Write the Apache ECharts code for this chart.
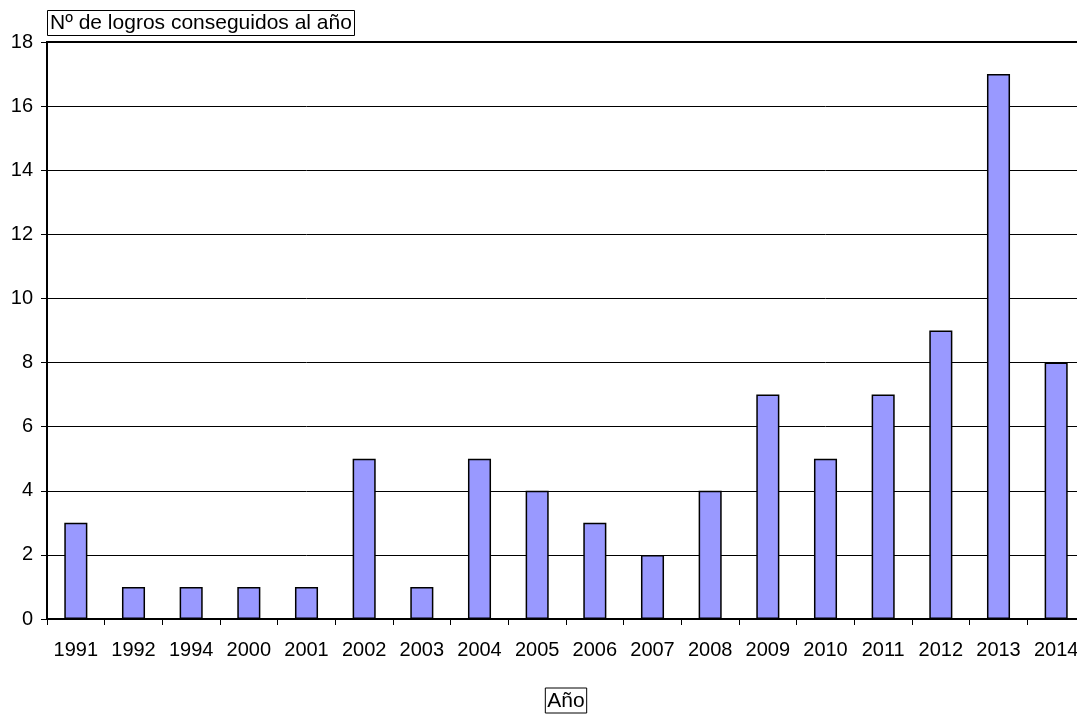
<!DOCTYPE html>
<html>
<head>
<meta charset="utf-8">
<script src="https://cdn.jsdelivr.net/npm/echarts@6/dist/echarts.min.js"></script>
<style>
html,body{margin:0;padding:0;background:#fff;}
#wrap{position:relative;width:1077px;height:714px;overflow:hidden;}
#main{position:absolute;left:0;top:0;width:1100px;height:714px;}
</style>
</head>
<body>
<div id="wrap"><div id="main"></div></div>
<script>
const years = ['1991','1992','1994','2000','2001','2002','2003','2004','2005','2006','2007','2008','2009','2010','2011','2012','2013','2014'];
const logros = [3,1,1,1,1,5,1,5,4,3,2,4,7,5,7,9,17,8];
const yTicks = [0,2,4,6,8,10,12,14,16,18];
const yTitle = 'Nº de logros conseguidos al año';
const xTitle = 'Año';

const chart = echarts.init(document.getElementById('main'), null, {renderer:'canvas', width:1100, height:714});
const FONT = 'Liberation Sans, Arial, Helvetica, sans-serif';
chart.setOption({
  animation: false,
  backgroundColor: '#fff',
  textStyle: {fontFamily: FONT},
  title: {
    text: yTitle,
    left: 47, top: 10,
    padding: [2, 3, 2, 3],
    borderColor: '#000', borderWidth: 1,
    textStyle: {fontFamily: FONT, fontSize: 21, fontWeight: 'normal', color: '#000', lineHeight: 22}
  },
  grid: {
    left: 47, right: 15, top: 42, bottom: 95,
    containLabel: false,
    outerBoundsMode: 'none',
    show: true, borderColor: '#000', borderWidth: 2, backgroundColor: 'transparent'
  },
  xAxis: {
    type: 'category',
    data: years,
    name: xTitle,
    nameLocation: 'middle',
    nameGap: 69,
    nameTextStyle: {fontFamily: FONT, fontSize: 21, color: '#000', borderColor: '#000', borderWidth: 1, padding: [2, 2, 1, 2], lineHeight: 22},
    axisLine: {lineStyle: {color: '#000', width: 2}},
    axisTick: {show: true, alignWithLabel: false, length: 6, lineStyle: {color: '#000', width: 1}},
    axisLabel: {fontFamily: FONT, fontSize: 20, color: '#000', margin: 21, interval: 0}
  },
  yAxis: {
    type: 'value',
    min: yTicks[0], max: yTicks[yTicks.length-1], interval: 2,
    axisLine: {show: true, lineStyle: {color: '#000', width: 2}},
    axisTick: {show: true, length: 6, lineStyle: {color: '#000', width: 1}},
    axisLabel: {fontFamily: FONT, fontSize: 20, color: '#000', margin: 14},
    splitLine: {show: true, lineStyle: {color: '#000', width: 1}}
  },
  series: [{
    type: 'bar',
    data: logros,
    barWidth: '40%',
    itemStyle: {color: '#9999FF', borderColor: '#000', borderWidth: 1.5}
  }]
});
</script>
</body>
</html>
